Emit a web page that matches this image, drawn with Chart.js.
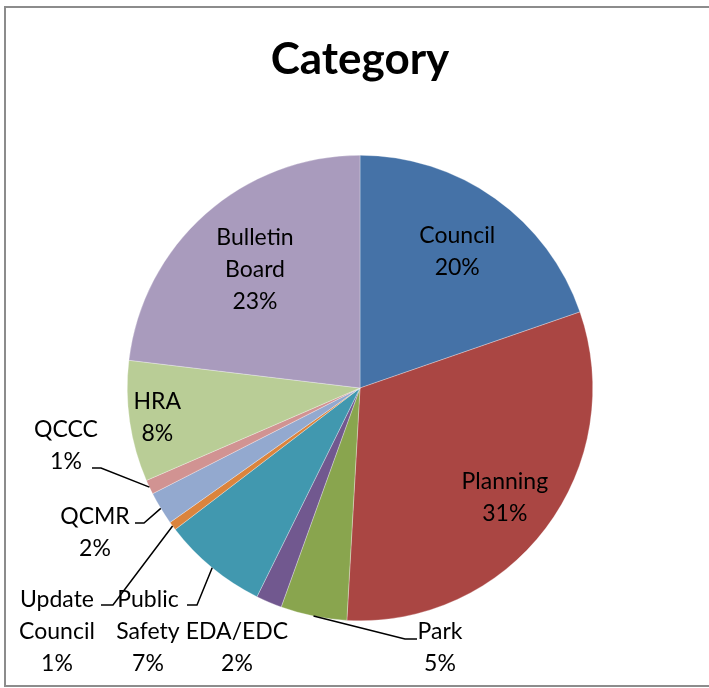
<!DOCTYPE html>
<html>
<head>
<meta charset="utf-8">
<script src="https://cdn.jsdelivr.net/npm/chart.js@4"></script>
<style>
  body { margin: 0; background: #fff; }
</style>
</head>
<body>
<canvas id="myChart" width="709" height="688"></canvas>
<script>
// Pie data (percent shares)

const categories = ['Council', 'Planning', 'Park', 'EDA/EDC', 'Public Safety', 'Update Council', 'QCMR', 'QCCC', 'HRA', 'Bulletin Board'];
const shares = [19.7, 31.2, 4.6, 1.8, 7.3, 0.6, 2.3, 1.0, 8.4, 23.1];

const sliceColors = ['#4572A7', '#AA4643', '#89A54E', '#71588F', '#4198AF', '#DB843D', '#93A9CF', '#D19392', '#B9CD96', '#A99BBD'];

// label placement: inside labels use a radius fraction, outside ones a text spot + leader elbow
const labelSpots = [
    { inside: 0.72 },
    { inside: 0.78 },
    { text: [440, 632], elbow: [405, 639], end: 417 },
    { text: [237, 632] },
    { text: [148, 600], elbow: [197, 605], end: 187 },
    { text: [57, 600], elbow: [113, 605], end: 101 },
    { text: [95, 517], elbow: [144, 523], end: 135 },
    { text: [66, 430], elbow: [101, 468], end: 92 },
    { inside: 0.88 },
    { inside: 0.68 }
];

const LINE_H = 32;
const labelFont = '23px Lato, "Open Sans", sans-serif';

const pieLabels = {
    id: 'pieLabels',
    beforeDraw(chart) {
        const ctx = chart.ctx;
        ctx.save();
        ctx.strokeStyle = '#8c8c8c';
        ctx.lineWidth = 2;
        ctx.strokeRect(5, 7, 740, 679);
        ctx.restore();
    },
    afterDatasetsDraw(chart) {
        const ctx = chart.ctx;
        const meta = chart.getDatasetMeta(0);
        const total = shares.reduce((a, b) => a + b, 0);
        ctx.save();
        ctx.font = labelFont;
        ctx.fillStyle = '#000';
        ctx.textAlign = 'center';
        ctx.textBaseline = 'middle';
        meta.data.forEach((arc, i) => {
            const { x, y, startAngle, endAngle, outerRadius } = arc.getProps(['x', 'y', 'startAngle', 'endAngle', 'outerRadius'], true);
            const mid = (startAngle + endAngle) / 2;
            const lines = categories[i].split(' ').concat([Math.round(shares[i] / total * 100) + '%']);
            const spot = labelSpots[i];
            let tx, ty;
            if (spot.inside) {
                tx = x + Math.cos(mid) * outerRadius * spot.inside;
                ty = y + Math.sin(mid) * outerRadius * spot.inside - (lines.length - 1) * LINE_H / 2;
            } else {
                tx = spot.text[0];
                ty = spot.text[1];
                if (spot.elbow) {
                    ctx.beginPath();
                    ctx.strokeStyle = '#000';
                    ctx.lineWidth = 1.5;
                    ctx.moveTo(x + Math.cos(mid) * outerRadius, y + Math.sin(mid) * outerRadius);
                    ctx.lineTo(spot.elbow[0], spot.elbow[1]);
                    ctx.lineTo(spot.end, spot.elbow[1]);
                    ctx.stroke();
                }
            }
            lines.forEach((t, k) => ctx.fillText(t, tx, ty + k * LINE_H));
        });
        ctx.restore();
    }
};

const config = {
    type: 'pie',
    data: {
        labels: categories,
        datasets: [{
            data: shares,
            backgroundColor: sliceColors,
            borderColor: 'rgba(255,255,255,0.6)',
            borderWidth: 0.5
        }]
    },
    options: {
        responsive: false,
        animation: false,
        layout: {
            padding: { top: 6, bottom: 67, left: 127, right: 116 }
        },
        plugins: {
            legend: { display: false },
            tooltip: { enabled: false },
            title: {
                display: true,
                text: 'Category',
                color: '#000',
                font: { family: 'Lato, "Open Sans", sans-serif', size: 44, weight: 'bold', lineHeight: 1.2 },
                padding: { top: 27.6, bottom: 68.6 }
            }
        }
    },
    plugins: [pieLabels]
};

const myChart = new Chart(document.getElementById('myChart'), config);
</script>
</body>
</html>
